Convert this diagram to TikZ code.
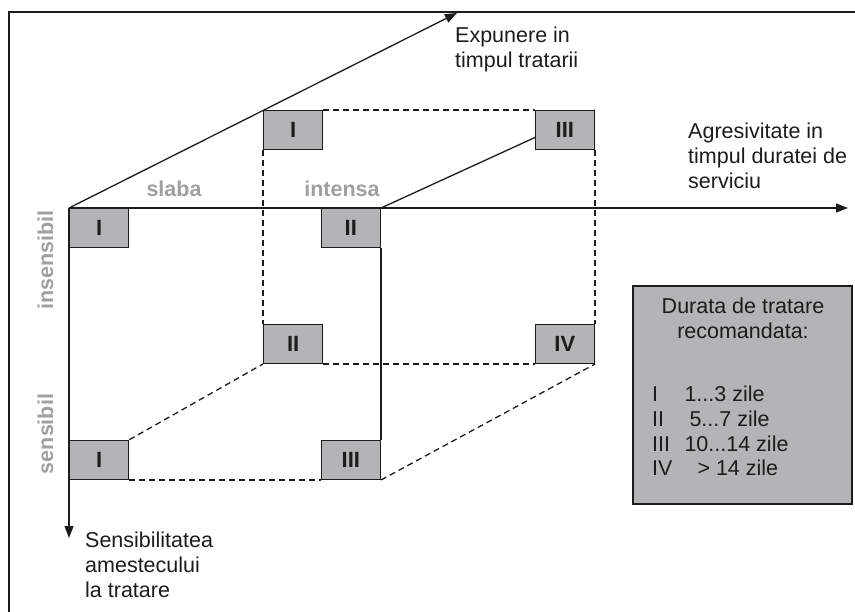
\documentclass[tikz,border=0pt]{standalone}
\usepackage{fontspec}
\setmainfont{Liberation Sans}
\usetikzlibrary{arrows.meta,backgrounds}
\definecolor{boxgray}{RGB}{180,180,182}
\definecolor{labelgray}{RGB}{160,160,160}
\definecolor{ink}{RGB}{28,28,28}
\begin{document}
\begin{tikzpicture}[x=1pt,y=-1pt,
  grade/.style={draw=ink, fill=boxgray, line width=1.3pt, minimum width=59pt, minimum height=39pt,
    inner sep=0pt, text=ink, font=\fontsize{22}{24}\selectfont\bfseries},
  axis/.style={draw=ink, line width=1.3pt, -{Triangle[length=12pt,width=9pt]}},
  edge/.style={draw=ink, line width=1.3pt},
  hidden/.style={draw=ink, line width=1.3pt, dash pattern=on 6pt off 4pt},
  level/.style={text=labelgray, inner sep=0pt, font=\fontsize{21.5}{24}\selectfont\bfseries},
  caption/.style={text=ink, inner sep=0pt, anchor=north west, align=left,
    font=\fontsize{21.5}{24.8}\selectfont}]
\useasboundingbox (0,0) rectangle (855,612);
\clip (0,0) rectangle (855,612);

% outer frame
\draw[ink, line width=1.6pt] (9,12) rectangle (870,630);

% grade boxes on the corners of the cube
\node[grade, anchor=north west] (f1) at (69,208) {I};
\node[grade, anchor=north east] (f2) at (381,208) {II};
\node[grade, anchor=south west] (s1) at (69,480) {I};
\node[grade, anchor=south east] (s3) at (381,480) {III};
\node[grade, anchor=north west] (b1) at (263,110) {I};
\node[grade, anchor=north east] (b3) at (595,110) {III};
\node[grade, anchor=south west] (b2) at (263,364) {II};
\node[grade, anchor=south east] (b4) at (595,364) {IV};

% axis tips
\coordinate (xtip) at (848,208);
\coordinate (ytip) at (69,538);
\coordinate (ztip) at (457,13);

\begin{scope}[on background layer]
  \draw[axis] (f1.north west) -- (xtip);
  \draw[axis] (f1.north west) -- (ytip);
  \draw[axis] (f1.north west) -- (ztip);
  \draw[edge] (f2.north east) -- (b3.north east);
  \draw[edge] (f2.south east) -- (s3.north east);
  \draw[hidden] (b1.north east) -- (b3.north west);
  \draw[hidden] (b1.south west) -- (b2.north west);
  \draw[hidden] (b3.south east) -- (b4.north east);
  \draw[hidden] (b2.south east) -- (b4.south west);
  \draw[hidden] (s1.south east) -- (s3.south west);
  \draw[hidden] (s1.north east) -- (b2.south west);
  \draw[hidden] (s3.south east) -- (b4.south east);
\end{scope}

% level labels
\node[level, anchor=base] (slaba) at (174,197) {slaba};
\node[level, anchor=base] (intensa) at (342,197) {intensa};
\node[level, rotate=90, anchor=base] (insens) at (53,260) {insensibil};
\node[level, rotate=90, anchor=base] (sens) at (53,434) {sensibil};

% axis captions
\node[caption] (zlab) at (455,27) {Expunere in\\timpul tratarii};
\node[caption] (xlab) at (688,123) {Agresivitate in\\timpul duratei de\\serviciu};
\node[caption] (ylab) at (85,532) {Sensibilitatea\\amestecului\\la tratare};

% legend
\node[draw=ink, fill=boxgray, line width=1.3pt, minimum width=219pt, minimum height=218pt,
  inner sep=0pt] (legend) at (742.5,395) {};
\node[caption, align=center, anchor=north] (legtitle) at (743,298)
  {Durata de tratare\\recomandata:};
\node[caption] (leglist) at (652,384)
  {\begin{tabular}{@{}l@{\hspace{12pt}}l@{}}
   I & 1...3 zile\\
   II & \hspace*{5pt}5...7 zile\\
   III & 10...14 zile\\
   IV & \hspace*{13pt}> 14 zile
   \end{tabular}};
\end{tikzpicture}
\end{document}
